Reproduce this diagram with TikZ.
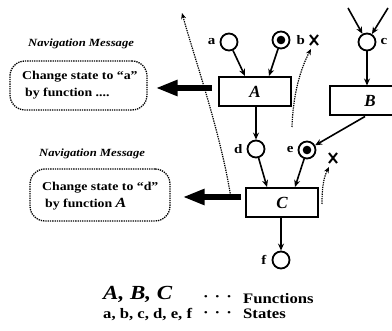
\documentclass[tikz,border=0pt]{standalone}
\usepackage{fontspec}
\setmainfont{Liberation Serif}
\newfontfamily\wf[FakeStretch=1.15,Ligatures=TeX]{Liberation Serif}
\usetikzlibrary{arrows.meta,calc}
\begin{document}
\begin{tikzpicture}[x=1pt,y=-1pt,
  st/.style={circle,draw,line width=1.8pt,minimum size=17pt,inner sep=0pt},
  dst/.style={st,path picture={\fill (path picture bounding box.center) circle (4.3pt);}},
  fbox/.style={draw,line width=2pt,minimum width=72pt,minimum height=29pt,inner sep=0pt,font=\fontsize{17}{17}\selectfont\bfseries\itshape},
  arr/.style={line width=1.6pt,-{Stealth[length=7pt,width=6pt]}},
  lab/.style={font=\wf\fontsize{13}{13}\selectfont\bfseries,inner sep=0pt},
  dotc/.style={line width=1.2pt,dash pattern=on 1.3pt off 1pt,-{Stealth[length=6pt,width=5pt]}},
  msg/.style={draw,line width=1.3pt,dash pattern=on 1.3pt off 1pt,rounded corners=15pt,inner sep=0pt},
  msgtitle/.style={anchor=base west,inner sep=0pt,font=\wf\fontsize{11}{11}\selectfont\bfseries\itshape},
  msgtext/.style={anchor=base west,inner sep=0pt,font=\wf\fontsize{12}{12}\selectfont\bfseries},
  thk/.style={line width=6pt,-{Triangle[length=22pt,width=15pt]}},
  xm/.style={line width=2pt},
  legtext/.style={anchor=base west,inner sep=0pt,font=\wf\fontsize{14.5}{14.5}\selectfont\bfseries}
]
\useasboundingbox (0,0) rectangle (392,331);
% function boxes
\node[fbox] (A) at (255,91.5) {A};
\node[fbox,minimum width=80pt] (B) at (370,101) {B};
\node[fbox] (C) at (282,202.5) {C};
% states
\node[st] (a) at (229,42) {};
\node[dst] (b) at (281,40) {};
\node[st] (c) at (367,42) {};
\node[st] (d) at (256,149) {};
\node[dst] (e) at (307,150) {};
\node[st] (f) at (281,260) {};
% state labels
\node[lab,anchor=east] (la) at ([xshift=-4pt]a.west) {a};
\node[lab,anchor=west] (lb) at ([xshift=6pt]b.east) {b};
\node[lab,anchor=west] (lc) at ([xshift=4pt]c.east) {c};
\node[lab,anchor=east] (ld) at ([xshift=-4pt]d.west) {d};
\node[lab,anchor=east] (le) at ([xshift=-4pt]e.west) {e};
\node[lab,anchor=east] (lf) at ([xshift=-5pt]f.west) {f};
% arcs
\draw[arr] (a) -- ([xshift=-10pt]A.north);
\draw[arr] (b) -- ([xshift=14pt]A.north);
\coordinate (c1) at (348,8);
\coordinate (c2) at (388,8);
\draw[arr] (c1) -- (c);
\draw[arr] (c2) -- (c);
\draw[arr] (c) -- (B.north -| c);
\draw[arr] (A.south -| d) -- (d);
\draw[arr] ([xshift=-5pt]B.south) -- (e);
\draw[arr] (d) -- ([xshift=-15pt]C.north);
\draw[arr] (e) -- ([xshift=13pt]C.north);
\draw[arr] (C.south -| f) -- (f);
% x marks
\coordinate (xb) at (314,40);
\coordinate (xe) at (333,158);
\draw[xm] ($(xb)+(-4,-5)$) -- ($(xb)+(4,5)$);
\draw[xm] ($(xb)+(4,-5)$) -- ($(xb)+(-4,5)$);
\draw[xm] ($(xe)+(-4,-5)$) -- ($(xe)+(4,5)$);
\draw[xm] ($(xe)+(4,-5)$) -- ($(xe)+(-4,5)$);
% dotted curves
\coordinate (p1) at (231,198);
\coordinate (q1) at (182,13);
\draw[dotc] (p1) .. controls (220,130) and (195,60) .. (q1);
\coordinate (p2) at (292,127);
\coordinate (q2) at (311,49);
\draw[dotc] (p2) .. controls (293,95) and (300,70) .. (q2);
\coordinate (p3) at (322,204);
\coordinate (q3) at (329,167);
\draw[dotc] (p3) .. controls (322,186) and (324,177) .. (q3);
% messages
\node[msg,minimum width=137pt,minimum height=49pt] (m1) at (78.5,85.5) {};
\node[msgtitle] (t1) at (28,47) {Navigation Message};
\node[msgtext] (m1a) at (22,80) {Change state to ``a''};
\node[msgtext] (m1b) at (25,97) {by function ....};
\node[msg,minimum width=140pt,minimum height=52pt] (m2) at (100,195) {};
\node[msgtitle] (t2) at (39,157) {Navigation Message};
\node[msgtext] (m2a) at (42,191) {Change state to ``d''};
\node[msgtext] (m2b) at (45,208) {by function \fontsize{14}{14}\selectfont\itshape A};
% thick arrows
\coordinate (s1) at ([xshift=-6pt,yshift=3.5pt]A.west);
\draw[thk] (s1) -- ($(s1 -| m1.east)+(8,0)$);
\coordinate (s2) at ([xshift=-4pt,yshift=5.5pt]C.west);
\draw[thk] (s2) -- ($(s2 -| m2.east)+(12,0)$);
% legend
\node[anchor=base west,inner sep=0pt,font=\wf\fontsize{20}{20}\selectfont\bfseries\itshape] (g1) at (103,300) {A, B, C};
\node[legtext] (g1d) at (203,302) {·\hspace{6pt}·\hspace{6pt}·};
\node[legtext] (g1t) at (243,304) {Functions};
\node[legtext] (g2) at (103,319) {a, b, c, d, e, f};
\node[legtext] (g2d) at (203,318) {·\hspace{6pt}·\hspace{6pt}·};
\node[legtext] (g2t) at (243,319) {States};
\end{tikzpicture}
\end{document}
